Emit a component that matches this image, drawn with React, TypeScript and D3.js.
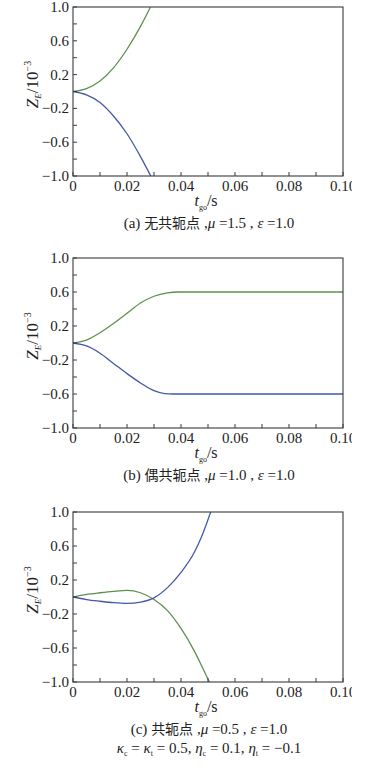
import React from "react";
import * as d3 from "d3";

// ---------- data ----------
const xTicks = [0, 0.01, 0.02, 0.03, 0.04, 0.05, 0.06, 0.07, 0.08, 0.09, 0.1];
const xTickLabels = ["0", "", "0.02", "", "0.04", "", "0.06", "", "0.08", "", "0.10"];
const yTicks = [1.0, 0.8, 0.6, 0.4, 0.2, 0, -0.2, -0.4, -0.6, -0.8, -1.0];
const yTickLabels = ["1.0", "", "0.6", "", "0.2", "", "\u22120.2", "", "\u22120.6", "", "\u22121.0"];

// panel (a)
const tA_green = [0, 0.005, 0.01, 0.015, 0.02, 0.025, 0.0287];
const zA_green = [0, 0.035, 0.125, 0.28, 0.5, 0.77, 1.0];
const tA_blue = [0, 0.005, 0.01, 0.015, 0.02, 0.025, 0.0288];
const zA_blue = [0, -0.04, -0.13, -0.29, -0.5, -0.77, -1.0];

// panel (b)
const tB_green = [0, 0.005, 0.01, 0.015, 0.02, 0.025, 0.03, 0.035, 0.039, 0.1];
const zB_green = [0, 0.035, 0.12, 0.23, 0.35, 0.47, 0.55, 0.59, 0.6, 0.6];
const tB_blue = [0, 0.005, 0.01, 0.015, 0.02, 0.025, 0.03, 0.034, 0.037, 0.1];
const zB_blue = [0, -0.035, -0.12, -0.24, -0.36, -0.47, -0.56, -0.595, -0.6, -0.6];

// panel (c)
const tC_green = [0, 0.005, 0.01, 0.015, 0.02, 0.025, 0.03, 0.035, 0.04, 0.045, 0.0475, 0.0505];
const zC_green = [0, 0.03, 0.05, 0.067, 0.078, 0.05, -0.03, -0.16, -0.37, -0.64, -0.8, -1.0];
const tC_blue = [0, 0.005, 0.01, 0.015, 0.02, 0.025, 0.03, 0.035, 0.04, 0.045, 0.0475, 0.051];
const zC_blue = [0, -0.03, -0.05, -0.067, -0.075, -0.06, -0.01, 0.11, 0.29, 0.53, 0.7, 1.0];

const GREEN = "#5f8f4f";
const BLUE = "#4458a8";
const FONT = "Liberation Serif, Times New Roman, serif";
const CJK = "Noto Sans CJK SC, sans-serif";

const zip = (t: number[], z: number[]) => t.map((v, i) => [v, z[i]] as [number, number]);

type PanelProps = {
  top: number;
  bottom: number;
  green: [number, number][];
  blue: [number, number][];
  caption: React.ReactNode;
  caption2?: React.ReactNode;
  id: string;
};

const LEFT = 73;
const RIGHT = 343;

function Panel({ top, bottom, green, blue, caption, caption2, id }: PanelProps) {
  const x = d3.scaleLinear().domain([0, 0.1]).range([LEFT, RIGHT]);
  const y = d3.scaleLinear().domain([-1, 1]).range([bottom, top]);
  const line = d3
    .line<[number, number]>()
    .x((d) => x(d[0]))
    .y((d) => y(d[1]))
    .curve(d3.curveMonotoneX);
  const cx = 206;
  return (
    <g>
      <defs>
        <clipPath id={"clip" + id}>
          <rect x={LEFT} y={top} width={RIGHT - LEFT} height={bottom - top} />
        </clipPath>
        <clipPath id={"clipx" + id}>
          <rect x={0} y={bottom} width={352} height={30} />
        </clipPath>
      </defs>
      <g clipPath={`url(#clip${id})`}>
        <path d={line(green) || ""} fill="none" stroke={GREEN} strokeWidth={1.3} />
        <path d={line(blue) || ""} fill="none" stroke={BLUE} strokeWidth={1.3} />
      </g>
      <rect x={LEFT} y={top} width={RIGHT - LEFT} height={bottom - top} fill="none" stroke="#3a3a3a" strokeWidth={1.1} />
      {xTicks.map((t, i) => (
        <g key={"x" + i}>
          <line x1={x(t)} x2={x(t)} y1={bottom} y2={bottom - 4} stroke="#3a3a3a" />
          {xTickLabels[i] && (
            <text
              x={x(t)}
              y={bottom + 15}
              textAnchor="middle"
              fontFamily={FONT}
              fontSize={15}
              fill="#222"
              clipPath={`url(#clipx${id})`}
            >
              {xTickLabels[i]}
            </text>
          )}
        </g>
      ))}
      {yTicks.map((v, i) => (
        <g key={"y" + i}>
          <line x1={LEFT} x2={LEFT + 4} y1={y(v)} y2={y(v)} stroke="#3a3a3a" />
          {yTickLabels[i] && (
            <text x={LEFT - 4} y={y(v) + 5} textAnchor="end" fontFamily={FONT} fontSize={15} fill="#222">
              {yTickLabels[i]}
            </text>
          )}
        </g>
      ))}
      {/* y axis title */}
      <text
        transform={`translate(38,${(top + bottom) / 2 - 7}) rotate(-90)`}
        textAnchor="middle"
        fontFamily={FONT}
        fontSize={17}
        fill="#222"
      >
        <tspan fontStyle="italic">Z</tspan>
        <tspan fontSize={9} dy={3} fontStyle="italic">E</tspan>
        <tspan dy={-3}>/10</tspan>
        <tspan fontSize={10} dy={-7}>{"\u22123"}</tspan>
      </text>
      {/* x axis title */}
      <text x={cx} y={bottom + 30} textAnchor="middle" fontFamily={FONT} fontSize={16} fill="#222">
        <tspan fontStyle="italic">t</tspan>
        <tspan fontSize={8} dy={4}>go</tspan>
        <tspan dy={-4}>/s</tspan>
      </text>
      <text x={cx + 3} y={bottom + 52} textAnchor="middle" fontFamily={FONT} fontSize={15} fill="#222">
        {caption}
      </text>
      {caption2 && (
        <text x={cx + 3} y={bottom + 71} textAnchor="middle" fontFamily={FONT} fontSize={15} fill="#222">
          {caption2}
        </text>
      )}
    </g>
  );
}

export default function App() {
  return (
    <svg
      width={379}
      height={768}
      style={{ position: "absolute", left: 0, top: 0, background: "#fff" }}
    >
      <rect x={0} y={0} width={379} height={768} fill="#fff" />
      <Panel
        id="a"
        top={7}
        bottom={176}
        green={zip(tA_green, zA_green)}
        blue={zip(tA_blue, zA_blue)}
        caption={
          <>
            <tspan>(a) </tspan>
            <tspan fontFamily={CJK} fontSize={14}>无共轭点</tspan>
            <tspan> ,</tspan>
            <tspan fontStyle="italic">μ</tspan>
            <tspan> =1.5 , </tspan>
            <tspan fontStyle="italic">ε</tspan>
            <tspan> =1.0</tspan>
          </>
        }
      />
      <Panel
        id="b"
        top={258}
        bottom={428}
        green={zip(tB_green, zB_green)}
        blue={zip(tB_blue, zB_blue)}
        caption={
          <>
            <tspan>(b) </tspan>
            <tspan fontFamily={CJK} fontSize={14}>偶共轭点</tspan>
            <tspan> ,</tspan>
            <tspan fontStyle="italic">μ</tspan>
            <tspan> =1.0 , </tspan>
            <tspan fontStyle="italic">ε</tspan>
            <tspan> =1.0</tspan>
          </>
        }
      />
      <Panel
        id="c"
        top={512}
        bottom={682}
        green={zip(tC_green, zC_green)}
        blue={zip(tC_blue, zC_blue)}
        caption={
          <>
            <tspan>(c) </tspan>
            <tspan fontFamily={CJK} fontSize={14}>共轭点</tspan>
            <tspan> ,</tspan>
            <tspan fontStyle="italic">μ</tspan>
            <tspan> =0.5 , </tspan>
            <tspan fontStyle="italic">ε</tspan>
            <tspan> =1.0</tspan>
          </>
        }
        caption2={
          <>
            <tspan fontStyle="italic">κ</tspan>
            <tspan fontSize={8} dy={3}>c</tspan>
            <tspan dy={-3}> = </tspan>
            <tspan fontStyle="italic">κ</tspan>
            <tspan fontSize={8} dy={3}>t</tspan>
            <tspan dy={-3}> = 0.5, </tspan>
            <tspan fontStyle="italic">η</tspan>
            <tspan fontSize={8} dy={3}>c</tspan>
            <tspan dy={-3}> = 0.1, </tspan>
            <tspan fontStyle="italic">η</tspan>
            <tspan fontSize={8} dy={3}>t</tspan>
            <tspan dy={-3}> = {"\u2212"}0.1</tspan>
          </>
        }
      />
    </svg>
  );
}
